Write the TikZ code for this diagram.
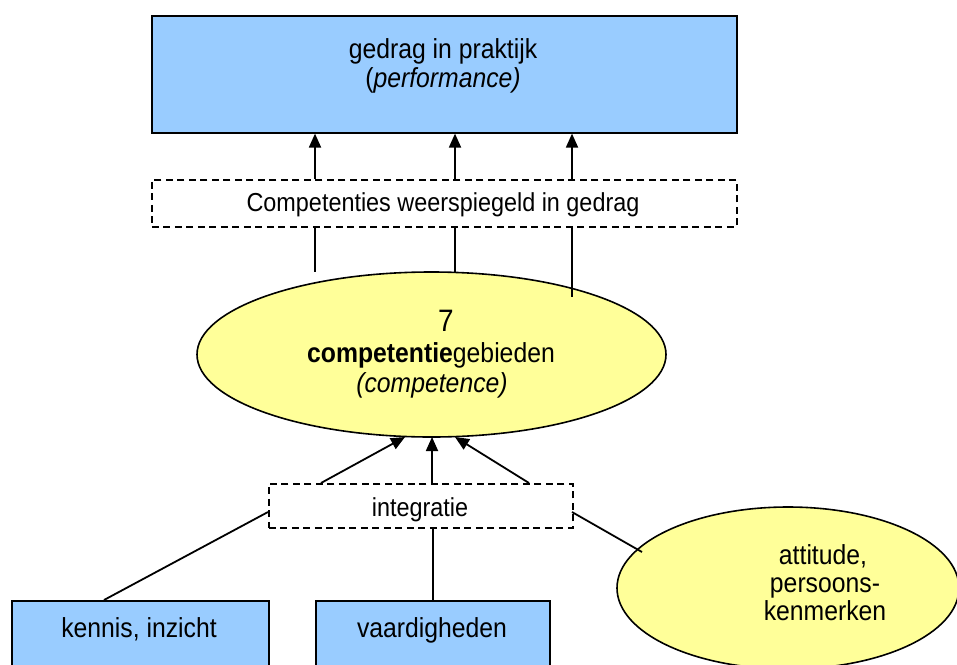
\documentclass[tikz,border=0pt]{standalone}
\usepackage{fontspec}
\setmainfont[FakeStretch=0.9]{Liberation Sans}
\usetikzlibrary{shapes.geometric,arrows.meta}
\definecolor{boxblue}{HTML}{99CCFF}
\definecolor{ellyellow}{HTML}{FFFF99}
\begin{document}
\begin{tikzpicture}[x=1pt,y=1pt,
  bluebox/.style={draw=black,line width=1.6pt,fill=boxblue,inner sep=0pt,anchor=north west,rectangle},
  dashbox/.style={draw=black,line width=1.6pt,dash pattern=on 7pt off 4.5pt,fill=white,inner sep=0pt,anchor=north west,rectangle},
  yellowell/.style={draw=black,line width=1.6pt,fill=ellyellow,ellipse,inner sep=0pt},
  bigtxt/.style={font=\fontsize{27.5}{32}\selectfont,inner sep=0pt,anchor=base},
  smalltxt/.style={font=\fontsize{26}{30}\selectfont,inner sep=0pt,anchor=base},
  conn/.style={line width=1.8pt},
  arr/.style={line width=1.8pt,-{Triangle[length=14pt,width=12pt]}}]
\clip (0,0) rectangle (957,-664);
\fill[white] (0,0) rectangle (957,-664);

% shapes
\node[bluebox,minimum width=585pt,minimum height=117pt] (top) at (151,-15) {};
\node[dashbox,minimum width=585pt,minimum height=47pt] (refl) at (151,-179) {};
\node[yellowell,minimum width=469pt,minimum height=165pt] (comp) at (431.5,-354.5) {};
\node[dashbox,minimum width=304pt,minimum height=44pt] (integ) at (268,-483) {};
\node[bluebox,minimum width=257pt,minimum height=100pt] (kennis) at (11,-600) {};
\node[bluebox,minimum width=234pt,minimum height=100pt] (vaard) at (315,-600) {};
\node[yellowell,minimum width=342pt,minimum height=162pt] (att) at (788,-588) {};

% texts
\node[bigtxt] (t1) at (443,-58) {gedrag in praktijk};
\node[bigtxt] (t2) at (443,-87) {(\textit{performance)}};
\node[smalltxt] (t3) at (443,-211) {Competenties weerspiegeld in gedrag};
\node[font=\fontsize{31}{34}\selectfont,inner sep=0pt,anchor=base] (t4) at (446,-331) {7};
\node[bigtxt] (t5) at (431,-362) {\textbf{competentie}gebieden};
\node[bigtxt] (t6) at (432,-392) {\textit{(competence)}};
\node[smalltxt] (t7) at (420,-516) {integratie};
\node[bigtxt] (t8) at (139,-637) {kennis, inzicht};
\node[bigtxt] (t9) at (432,-637) {vaardigheden};
\node[bigtxt] (t10) at (823,-564) {attitude,};
\node[bigtxt] (t11) at (825,-592) {persoons-};
\node[bigtxt] (t12) at (825,-620) {kenmerken};

% coordinates for connector positions
\coordinate (xa) at (315,0);
\coordinate (xb) at (455,0);
\coordinate (xc) at (572,0);
\coordinate (ea) at (315,-272);
\coordinate (eb) at (455,-272);
\coordinate (ec) at (572,-297);

% arrows to top box
\draw[arr] (refl.north -| xa) -- (top.south -| xa);
\draw[arr] (refl.north -| xb) -- (top.south -| xb);
\draw[arr] (refl.north -| xc) -- (top.south -| xc);
% lines from ellipse to reflection box
\draw[conn] (refl.south -| xa) -- (ea);
\draw[conn] (refl.south -| xb) -- (eb);
\draw[conn] (refl.south -| xc) -- (ec);

% arrows from integratie to ellipse
\coordinate (ia) at (321,-483);
\coordinate (ib) at (432,-483);
\coordinate (ic) at (529,-483);
\coordinate (ja) at (405,-437);
\coordinate (jb) at (432,-437);
\coordinate (jc) at (455,-437);
\draw[arr] (ia) -- (ja);
\draw[arr] (ib) -- (jb);
\draw[arr] (ic) -- (jc);

% lines from bottom items to integratie
\coordinate (ka) at (268,-512);
\coordinate (kb) at (104,-600);
\coordinate (la) at (572,-512);
\coordinate (lb) at (642,-552);
\draw[conn] (ka) -- (kb);
\draw[conn] (integ.south -| vaard.north) -- (vaard.north);
\draw[conn] (la) -- (lb);
\end{tikzpicture}
\end{document}
